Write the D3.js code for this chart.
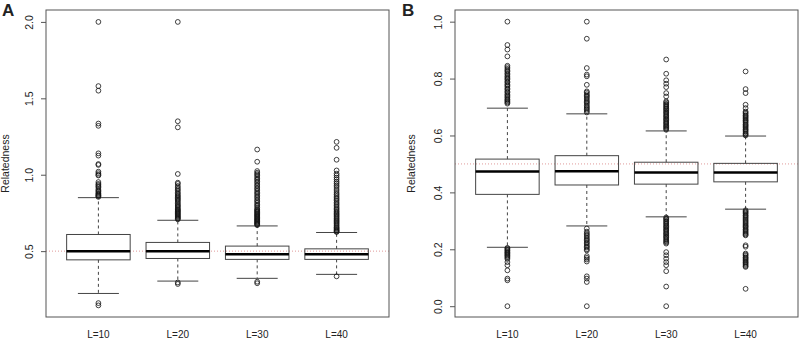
<!DOCTYPE html>
<html>
<head>
<meta charset="utf-8">
<script src="https://d3js.org/d3.v7.min.js"></script>
<style>
    body { margin: 0; background: #fff; }
    text { font-family: "Liberation Sans", Arial, sans-serif; fill: #222; }
</style>
</head>
<body>
<svg id="drawing_region"></svg>
<script>
const groups = ['L=10', 'L=20', 'L=30', 'L=40'];

// panel A
const a_ticks = [0.5, 1.0, 1.5, 2.0];
const a_low = [0.223, 0.304, 0.322, 0.348];
const a_q1 = [0.443, 0.452, 0.446, 0.446];
const a_median = [0.5, 0.5, 0.48, 0.48];
const a_q3 = [0.609, 0.557, 0.533, 0.515];
const a_high = [0.850, 0.702, 0.665, 0.622];
const a_outliers = [
    [0.145, 0.16, 2.0, 1.58, 1.55, 1.335, 1.32, 1.14, 1.125, 1.07, 1.064, 1.02, 1.01, 1.0, 0.995,
     0.952, 0.94, 0.933, 0.925, 0.918, 0.906, 0.897, 0.89, 0.881, 0.875, 0.869, 0.864, 0.86, 0.855],
    [0.285, 0.295, 2.0, 1.35, 1.31, 1.005, 0.948, 0.94, 0.926, 0.915, 0.905, 0.896, 0.884, 0.876,
     0.866, 0.86, 0.851, 0.844, 0.836, 0.829, 0.82, 0.811, 0.802, 0.796, 0.789, 0.781, 0.774, 0.769,
     0.763, 0.758, 0.752, 0.746, 0.741, 0.735, 0.729, 0.724, 0.718, 0.713, 0.708],
    [0.29, 0.3, 1.165, 1.085, 1.024, 1.013, 1.004, 0.996, 0.985, 0.974, 0.966, 0.955, 0.946, 0.934,
     0.926, 0.914, 0.906, 0.895, 0.884, 0.876, 0.865, 0.855, 0.846, 0.834, 0.826, 0.815, 0.804, 0.796,
     0.786, 0.775, 0.77, 0.764, 0.758, 0.753, 0.747, 0.741, 0.736, 0.731, 0.725, 0.72, 0.714, 0.709,
     0.704, 0.699, 0.694, 0.689, 0.684, 0.679, 0.675, 0.67],
    [0.335, 1.215, 1.176, 1.098, 1.028, 1.007, 0.995, 0.981, 0.969, 0.955, 0.944, 0.931, 0.92, 0.906,
     0.894, 0.881, 0.871, 0.86, 0.849, 0.84, 0.83, 0.819, 0.809, 0.8, 0.789, 0.78, 0.771, 0.762, 0.755,
     0.746, 0.739, 0.731, 0.724, 0.716, 0.709, 0.701, 0.694, 0.686, 0.679, 0.671, 0.664, 0.656, 0.651,
     0.645, 0.639, 0.634, 0.629, 0.625]
];

// panel B
const b_ticks = [0.0, 0.2, 0.4, 0.6, 0.8, 1.0];
const b_low = [0.207, 0.282, 0.314, 0.341];
const b_q1 = [0.393, 0.426, 0.429, 0.437];
const b_median = [0.473, 0.474, 0.47, 0.47];
const b_q3 = [0.517, 0.529, 0.506, 0.502];
const b_high = [0.696, 0.676, 0.616, 0.598];
const b_outliers = [
    [1.0, 0.918, 0.902, 0.878, 0.845, 0.84, 0.834, 0.829, 0.825, 0.819, 0.815, 0.809, 0.805, 0.8, 0.796,
     0.79, 0.786, 0.78, 0.776, 0.771, 0.765, 0.761, 0.755, 0.751, 0.745, 0.741, 0.736, 0.732, 0.727,
     0.724, 0.72, 0.716, 0.712,
     0.205, 0.202, 0.198, 0.195, 0.191, 0.188, 0.185, 0.181, 0.178, 0.174, 0.17, 0.166, 0.155, 0.144,
     0.126, 0.097, 0.091, 0.0],
    [1.0, 0.94, 0.837, 0.814, 0.808, 0.778, 0.755, 0.751, 0.745, 0.74, 0.736, 0.731, 0.725, 0.72, 0.716,
     0.711, 0.705, 0.7, 0.696, 0.691, 0.686, 0.681,
     0.273, 0.262, 0.256, 0.251, 0.246, 0.24, 0.235, 0.231, 0.225, 0.221, 0.215, 0.21, 0.206, 0.2, 0.196,
     0.176, 0.17, 0.164, 0.157, 0.105, 0.097, 0.085, 0.0],
    [0.867, 0.817, 0.794, 0.782, 0.77, 0.749, 0.737, 0.72, 0.716, 0.711, 0.708, 0.703, 0.7, 0.695, 0.692,
     0.688, 0.683, 0.68, 0.676, 0.671, 0.668, 0.664, 0.659, 0.656, 0.652, 0.647, 0.644, 0.64, 0.635,
     0.632, 0.628, 0.624, 0.62,
     0.312, 0.308, 0.305, 0.3, 0.297, 0.292, 0.289, 0.284, 0.28, 0.277, 0.272, 0.268, 0.265, 0.26, 0.256,
     0.253, 0.248, 0.244, 0.241, 0.236, 0.232, 0.228, 0.224, 0.22, 0.19, 0.179, 0.167, 0.155, 0.144,
     0.123, 0.069, 0.0],
    [0.825, 0.763, 0.749, 0.708, 0.696, 0.684, 0.68, 0.676, 0.671, 0.668, 0.664, 0.66, 0.655, 0.652,
     0.648, 0.644, 0.639, 0.636, 0.632, 0.628, 0.623, 0.62, 0.616, 0.612, 0.607, 0.604, 0.6,
     0.337, 0.333, 0.329, 0.325, 0.32, 0.317, 0.313, 0.309, 0.304, 0.3, 0.296, 0.292, 0.288, 0.283,
     0.28, 0.276, 0.271, 0.268, 0.264, 0.26, 0.256, 0.252, 0.249, 0.214, 0.209, 0.185, 0.181, 0.177,
     0.172, 0.169, 0.165, 0.161, 0.156, 0.153, 0.149, 0.145, 0.141, 0.138, 0.061]
];

function makeRows(low, q1, median, q3, high, outliers) {
    return groups.map((g, i) => ({
        i: i + 1, label: g, low: low[i], q1: q1[i], median: median[i],
        q3: q3[i], high: high[i], outliers: outliers[i]
    }));
}

const svg = d3.select('#drawing_region')
    .attr('width', 799)
    .attr('height', 340);

class BoxPlot {

    constructor(config, data) {
        this.config = config;
        this.data = data;
        this.init();
    }

    init() {
        let self = this;
        self.chart = svg.append('g')
            .attr('transform', `translate(${self.config.left}, ${self.config.top})`);

        self.xscale = d3.scaleLinear()
            .domain([0.34, 4.66])
            .range([0, self.config.width]);

        self.yscale = d3.scaleLinear()
            .domain(self.config.ydomain)
            .range([self.config.height, 0]);

        self.yaxis = d3.axisLeft(self.yscale)
            .tickValues(self.config.ticks)
            .tickFormat(d3.format('.1f'))
            .tickSize(5)
            .tickPadding(4);
    }

    render() {
        let self = this;
        const bw = self.xscale(0.8) - self.xscale(0);
        const cw = 41;

        // reference line
        self.chart.append('line')
            .attr('x1', 0).attr('x2', self.config.width)
            .attr('y1', self.yscale(0.5)).attr('y2', self.yscale(0.5))
            .attr('stroke', '#e09a9a')
            .attr('stroke-width', 1)
            .attr('stroke-dasharray', '1,2');

        const box = self.chart.selectAll('.box')
            .data(self.data)
            .join('g')
            .attr('class', 'box')
            .attr('transform', d => `translate(${self.xscale(d.i)}, 0)`);

        // whiskers
        box.append('line')
            .attr('y1', d => self.yscale(d.q3)).attr('y2', d => self.yscale(d.high))
            .attr('stroke', '#444').attr('stroke-dasharray', '3,3');
        box.append('line')
            .attr('y1', d => self.yscale(d.q1)).attr('y2', d => self.yscale(d.low))
            .attr('stroke', '#444').attr('stroke-dasharray', '3,3');
        box.append('line')
            .attr('x1', -cw / 2).attr('x2', cw / 2)
            .attr('y1', d => self.yscale(d.high)).attr('y2', d => self.yscale(d.high))
            .attr('stroke', '#444');
        box.append('line')
            .attr('x1', -cw / 2).attr('x2', cw / 2)
            .attr('y1', d => self.yscale(d.low)).attr('y2', d => self.yscale(d.low))
            .attr('stroke', '#444');

        box.append('rect')
            .attr('x', -bw / 2)
            .attr('width', bw)
            .attr('y', d => self.yscale(d.q3))
            .attr('height', d => self.yscale(d.q1) - self.yscale(d.q3))
            .attr('fill', 'none')
            .attr('stroke', '#444');

        box.append('line')
            .attr('x1', -bw / 2).attr('x2', bw / 2)
            .attr('y1', d => self.yscale(d.median)).attr('y2', d => self.yscale(d.median))
            .attr('stroke', '#000')
            .attr('stroke-width', 2.5);

        box.selectAll('circle')
            .data(d => d.outliers)
            .join('circle')
            .attr('cx', 0)
            .attr('cy', d => self.yscale(d))
            .attr('r', 2.4)
            .attr('fill', 'none')
            .attr('stroke', '#111')
            .attr('stroke-width', 0.8);

        // frame
        self.chart.append('rect')
            .attr('width', self.config.width)
            .attr('height', self.config.height)
            .attr('fill', 'none')
            .attr('stroke', '#555');

        const yg = self.chart.append('g').call(self.yaxis);
        yg.select('.domain').remove();
        yg.selectAll('.tick line').attr('stroke', '#555');
        yg.selectAll('.tick text')
            .attr('transform', 'rotate(-90)')
            .attr('x', 0)
            .attr('y', -13)
            .attr('dy', 0)
            .attr('text-anchor', 'middle')
            .style('font-size', '10.5px')
            .style('font-family', '"Liberation Sans", Arial, sans-serif')
            .attr('fill', '#222');

        self.chart.selectAll('.xlabel')
            .data(self.data)
            .join('text')
            .attr('class', 'xlabel')
            .attr('x', d => self.xscale(d.i))
            .attr('y', 338 - self.config.top)
            .attr('text-anchor', 'middle')
            .style('font-size', '10px')
            .text(d => d.label);

        self.chart.append('text')
            .attr('transform', `rotate(-90, ${self.config.labelx}, ${self.config.height / 2})`)
            .attr('x', self.config.labelx)
            .attr('y', self.config.height / 2)
            .attr('text-anchor', 'middle')
            .style('font-size', '10.5px')
            .text('Relatedness');

        svg.append('text')
            .attr('x', self.config.left + self.config.letterx)
            .attr('y', 16)
            .style('font-size', '17px')
            .style('font-weight', 'bold')
            .attr('fill', '#000')
            .text(self.config.letter);
    }
}

const panel_a = new BoxPlot({
    left: 46, top: 10, width: 343, height: 307,
    ydomain: [0.069, 2.078], ticks: a_ticks,
    labelx: -37, letter: 'A', letterx: -44
}, makeRows(a_low, a_q1, a_median, a_q3, a_high, a_outliers));
panel_a.render();

const panel_b = new BoxPlot({
    left: 455, top: 10, width: 343, height: 307,
    ydomain: [-0.038, 1.041], ticks: b_ticks,
    labelx: -40, letter: 'B', letterx: -53
}, makeRows(b_low, b_q1, b_median, b_q3, b_high, b_outliers));
panel_b.render();
</script>
</body>
</html>
